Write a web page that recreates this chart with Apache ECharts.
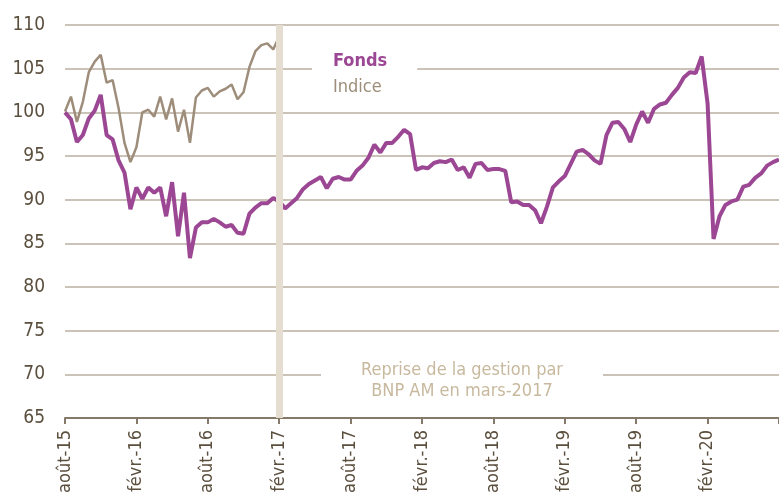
<!DOCTYPE html>
<html>
<head>
<meta charset="utf-8">
<script src="https://cdn.jsdelivr.net/npm/echarts@6/dist/echarts.min.js"></script>
<style>
  html, body { margin: 0; padding: 0; background: #fff; }
  #chart { width: 779px; height: 504px; }
</style>
</head>
<body>
<div id="chart"></div>
<script>
// mois en français pour les étiquettes de l'axe
var monthNames = ['janv.', 'févr.', 'mars', 'avr.', 'mai', 'juin', 'juil.', 'août', 'sept.', 'oct.', 'nov.', 'déc.'];

// points bimensuels, d'août 2015 à août 2020
var categories = [];
for (var y = 2015; y <= 2020; y++) {
  for (var m = 0; m < 12; m++) {
    if (y === 2015 && m < 7) continue;
    if (y === 2020 && m > 7) continue;
    var mm = (m + 1 < 10 ? '0' : '') + (m + 1);
    categories.push(y + '-' + mm + '-01');
    if (!(y === 2020 && m === 7)) categories.push(y + '-' + mm + '-16');
  }
}

var fondsData = [
  100, 99.2, 96.6, 97.4, 99.3, 100.2, 102, 97.4, 96.9, 94.5,
  93.1, 88.9, 91.4, 90.1, 91.4, 90.8, 91.4, 88.1, 92.0, 85.8,
  90.8, 83.3, 86.8, 87.4, 87.4, 87.8, 87.4, 86.9, 87.1, 86.2,
  86.1, 88.4, 89.1, 89.6, 89.6, 90.2, 89.8, 89.0, 89.6, 90.2,
  91.2, 91.8, 92.2, 92.6, 91.3, 92.4, 92.6, 92.3, 92.3, 93.3,
  93.9, 94.8, 96.3, 95.4, 96.5, 96.5, 97.2, 98.0, 97.5, 93.4,
  93.7, 93.6, 94.2, 94.4, 94.3, 94.6, 93.4, 93.7, 92.5, 94.1,
  94.2, 93.4, 93.5, 93.5, 93.3, 89.7, 89.8, 89.4, 89.4, 88.8,
  87.3, 89.2, 91.4, 92.1, 92.7, 94.1, 95.5, 95.7, 95.2, 94.5,
  94.1, 97.4, 98.8, 98.9, 98.1, 96.6, 98.6, 100.1, 98.8, 100.4,
  100.9, 101.1, 102, 102.8, 104, 104.6, 104.5, 106.4, 101.0, 85.5,
  88.1, 89.4, 89.8, 90.0, 91.5, 91.7, 92.5, 93.0, 93.9, 94.3,
  94.6
];

// l'indice s'arrête en février 2017
var indiceData = [
  100.1, 101.8, 98.9, 101.2, 104.6, 105.8, 106.6, 103.4, 103.7, 100.5,
  96.5, 94.3, 96.0, 100.0, 100.3, 99.5, 101.8, 99.2, 101.6, 97.8,
  100.3, 96.5, 101.7, 102.5, 102.8, 101.8, 102.4, 102.7, 103.2, 101.5,
  102.3, 105.2, 107.0, 107.7, 107.9, 107.2, 108.7
];

var yTicks = { min: 65, max: 110, step: 5 };
var changeDate = '2017-02-01';
var noteLines = ['Reprise de la gestion par', 'BNP AM en mars-2017'];

var font = '"DejaVu Sans Condensed", "DejaVu Sans", Verdana, sans-serif';
var textColor = '#5b4f3e';

var chart = echarts.init(document.getElementById('chart'));
chart.setOption({
  animation: false,
  textStyle: { fontFamily: font },
  grid: { left: 65, right: -2, top: 25, bottom: 86 },
  legend: {
    orient: 'vertical',
    left: 312,
    top: 44,
    padding: [8, 30, 8, 16],
    backgroundColor: '#fff',
    icon: 'none',
    itemWidth: 0,
    itemHeight: 18,
    itemGap: 8,
    selectedMode: false,
    data: [
      { name: 'Fonds', textStyle: { color: '#9c4794', fontWeight: 'bold', fontSize: 18, fontFamily: font } },
      { name: 'Indice', textStyle: { color: '#9d8d7a', fontSize: 18, fontFamily: font } }
    ]
  },
  xAxis: {
    type: 'category',
    data: categories,
    boundaryGap: false,
    axisLine: { lineStyle: { color: '#857a69', width: 2 } },
    axisTick: { interval: 11, length: 6, lineStyle: { color: '#857a69', width: 2 } },
    axisLabel: {
      interval: 11,
      rotate: 90,
      margin: 12,
      color: textColor,
      fontSize: 18,
      formatter: function (v, i) {
        if (i === categories.length - 1) return '';
        var parts = v.split('-');
        return monthNames[+parts[1] - 1] + '-' + parts[0].slice(2);
      }
    },
    splitLine: { show: false }
  },
  yAxis: {
    type: 'value',
    min: yTicks.min,
    max: yTicks.max,
    interval: yTicks.step,
    axisLine: { show: false },
    axisTick: { show: false },
    axisLabel: { color: textColor, fontSize: 19, margin: 20 },
    splitLine: { lineStyle: { color: '#cbc3b8', width: 2 } }
  },
  series: [
    {
      name: 'Indice',
      type: 'line',
      data: indiceData,
      showSymbol: false,
      lineStyle: { color: '#9d8d7a', width: 2.5 },
      itemStyle: { color: '#9d8d7a' },
      z: 2
    },
    {
      name: 'Fonds',
      type: 'line',
      data: fondsData,
      showSymbol: false,
      lineStyle: { color: '#9c4794', width: 4 },
      itemStyle: { color: '#9c4794' },
      z: 3
    },
    {
      // bande verticale au changement de gestion
      name: 'reprise',
      type: 'line',
      data: [],
      z: 5,
      markLine: {
        silent: true,
        symbol: 'none',
        label: { show: false },
        lineStyle: { color: '#e5ddd0', width: 7, type: 'solid' },
        data: [{ xAxis: changeDate }]
      }
    }
  ],
  graphic: [
    {
      type: 'group',
      left: 321,
      top: 352,
      z: 50,
      children: [
        { type: 'rect', z: 50, shape: { x: 0, y: 0, width: 282, height: 54 }, style: { fill: '#fff' } },
        {
          type: 'text',
          z: 51,
          x: 141,
          y: 8,
          style: {
            text: noteLines.join('\n'),
            fill: '#c8b99e',
            font: '18px ' + font,
            align: 'center',
            lineHeight: 21
          }
        }
      ]
    }
  ]
});
</script>
</body>
</html>
